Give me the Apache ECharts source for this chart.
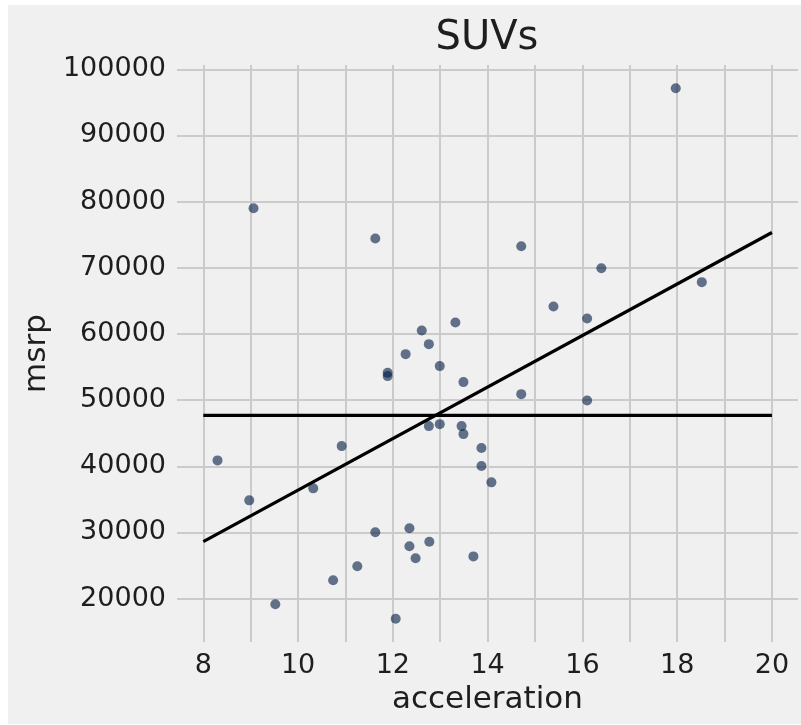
<!DOCTYPE html>
<html>
<head>
<meta charset="utf-8">
<title>SUVs</title>
<script src="https://cdn.jsdelivr.net/npm/echarts@6/dist/echarts.min.js"></script>
<style>
  html, body { margin: 0; padding: 0; background: #fff; }
  #chart { position: absolute; left: 8px; top: 5px; width: 793px; height: 719px; }
</style>
</head>
<body>
<div id="chart"></div>
<script>
// acceleration (x) / msrp (y), one entry per SUV
var acceleration = [8.30, 8.97, 9.06, 9.52, 10.32, 10.74, 10.92, 11.25, 11.63, 11.63,
  11.89, 11.89, 12.06, 12.27, 12.35, 12.35, 12.48, 12.61, 12.76, 12.76,
  12.77, 12.99, 12.99, 13.32, 13.45, 13.49, 13.49, 13.70, 13.87, 13.87,
  14.08, 14.71, 14.71, 15.39, 16.10, 16.10, 16.40, 17.97, 18.52];
var msrp = [40890, 34850, 79000, 19140, 36660, 22780, 43050, 24880, 30030, 74430,
  54120, 53630, 16960, 56950, 30620, 27900, 26090, 60530, 58460, 46070,
  28600, 55140, 46370, 61740, 46070, 44860, 52720, 26380, 42750, 40030,
  37570, 73260, 50900, 64150, 62340, 49950, 69940, 97130, 67830];

// the two black lines: fitted line and the mean msrp
var lineX = [8, 20];
var fitY = [28600, 75330];
var meanY = [47700, 47700];

var xGridValues = [8, 9, 10, 11, 12, 13, 14, 15, 16, 17, 18, 19, 20];
var xTickLabels = [8, 10, 12, 14, 16, 18, 20];
var yTickLabels = [20000, 30000, 40000, 50000, 60000, 70000, 80000, 90000, 100000];

var font = "DejaVu Sans";
var textColor = "#1e1e1e";

var points = acceleration.map(function (x, i) { return [x, msrp[i]]; });
var fitLine = lineX.map(function (x, i) { return [x, fitY[i]]; });
var meanLine = lineX.map(function (x, i) { return [x, meanY[i]]; });

var chart = echarts.init(document.getElementById("chart"));
chart.setOption({
  backgroundColor: "#f0f0f0",
  animation: false,
  title: {
    text: "SUVs",
    left: 474,
    top: 9,
    textAlign: "center",
    textStyle: { fontFamily: font, fontSize: 40, fontWeight: "normal", color: textColor }
  },
  grid: { left: 169, top: 60, width: 621, height: 577 },
  xAxis: {
    type: "value",
    min: 7.445,
    max: 20.55,
    name: "acceleration",
    nameLocation: "middle",
    nameGap: 42,
    nameTextStyle: { fontFamily: font, fontSize: 31, color: textColor },
    axisLine: { show: false },
    axisTick: { show: false, customValues: xGridValues },
    axisLabel: {
      customValues: xTickLabels,
      margin: 10,
      fontFamily: font,
      fontSize: 27,
      color: textColor
    },
    splitLine: { show: true, lineStyle: { color: "#cbcbcb", width: 2 } }
  },
  yAxis: {
    type: "value",
    min: 13440,
    max: 100650,
    name: "msrp",
    nameLocation: "middle",
    nameGap: 107,
    nameTextStyle: { fontFamily: font, fontSize: 31, color: textColor },
    axisLine: { show: false },
    axisTick: { show: false, customValues: yTickLabels },
    axisLabel: {
      customValues: yTickLabels,
      margin: 11,
      fontFamily: font,
      fontSize: 27,
      color: textColor,
      formatter: function (v) { return String(v); }
    },
    splitLine: { show: true, lineStyle: { color: "#cbcbcb", width: 2 } }
  },
  series: [
    {
      type: "scatter",
      data: points,
      symbolSize: 10,
      itemStyle: { color: "rgba(0, 26, 68, 0.75)" },
      z: 2
    },
    {
      type: "line",
      data: fitLine,
      showSymbol: false,
      lineStyle: { color: "#000", width: 3.2 },
      z: 3
    },
    {
      type: "line",
      data: meanLine,
      showSymbol: false,
      lineStyle: { color: "#000", width: 3.2 },
      z: 3
    }
  ]
});
</script>
</body>
</html>
